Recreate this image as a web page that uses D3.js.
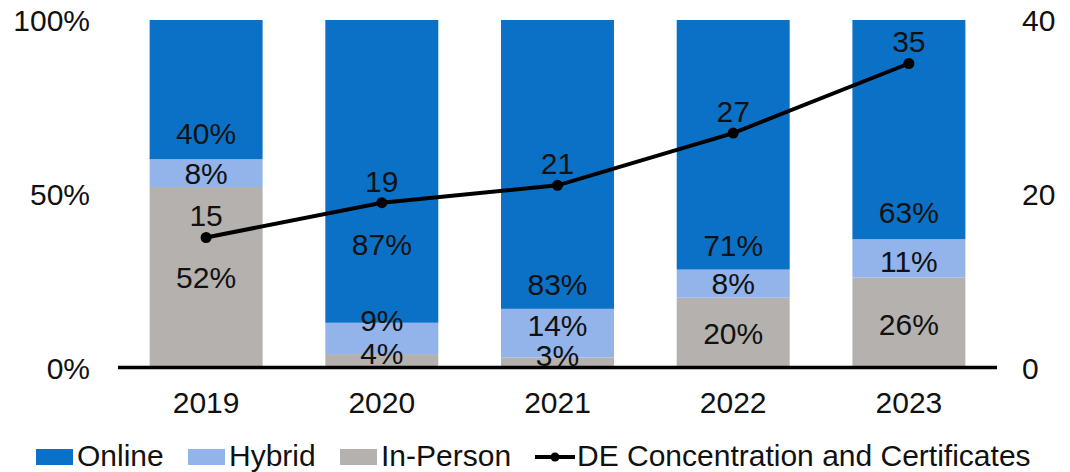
<!DOCTYPE html>
<html>
<head>
<meta charset="utf-8">
<script src="https://cdn.jsdelivr.net/npm/d3@7"></script>
<style>
  body { margin: 0; background: #fff; }
  text { font-family: "Liberation Sans", Arial, sans-serif; fill: #111; }
</style>
</head>
<body>
<svg id="chart" width="1070" height="472"></svg>
<script>
// data
const years = ['2019', '2020', '2021', '2022', '2023'];
const inPerson = [52, 4, 3, 20, 26];
const hybrid = [8, 9, 14, 8, 11];
const online = [40, 87, 83, 71, 63];
const deCount = [15, 19, 21, 27, 35];
const leftTicks = [0, 50, 100];
const rightTicks = [0, 20, 40];

const colors = { online: '#0a71c7', hybrid: '#92b4ea', inPerson: '#b4b1af' };

const svg = d3.select('#chart');
const fs = 30;

let x = d3.scaleBand().domain(years).range([118, 997]).paddingInner(0.357).paddingOuter(0.18);
let y = d3.scaleLinear().domain([0, 1]).range([368, 20]);
let y2 = d3.scaleLinear().domain([0, 40]).range([368, 20]);

// stack: in-person at bottom, then hybrid, then online (bars fill to 100%)
let rows = years.map((yr, i) => ({ year: yr, inPerson: inPerson[i], hybrid: hybrid[i], online: online[i] }));
let stack = d3.stack().keys(['inPerson', 'hybrid', 'online']).offset(d3.stackOffsetExpand)(rows);

// manual label nudges (px, relative to segment centre), like the hand-moved labels in the original
const nudge = {
  online: [44, 73, 120, 100, 83],
  hybrid: [0, -18, -8, 0, 3],
  inPerson: [0, -8, -8, 0, 1]
};

let barG = svg.append('g');
let labelG = svg.append('g');
stack.forEach(layer => {
  barG.append('g').selectAll('rect').data(layer).join('rect')
    .attr('x', d => x(d.data.year))
    .attr('y', d => y(d[1]))
    .attr('width', x.bandwidth())
    .attr('height', d => y(d[0]) - y(d[1]))
    .attr('fill', colors[layer.key]);
});

// axes
let leftAxis = svg.append('g').attr('transform', 'translate(90,0)')
  .call(d3.axisLeft(y2.copy().domain([0, 100])).tickValues(leftTicks).tickSize(0).tickPadding(0).tickFormat(d => d + '%'));
let rightAxis = svg.append('g').attr('transform', 'translate(1022,0)')
  .call(d3.axisRight(y2).tickValues(rightTicks).tickSize(0).tickPadding(0));
let bottomAxis = svg.append('g').attr('transform', 'translate(0,368)')
  .call(d3.axisBottom(x).tickSize(0).tickPadding(24));
[leftAxis, rightAxis, bottomAxis].forEach(a => {
  a.select('.domain').remove();
  a.selectAll('text').attr('font-size', fs).attr('font-family', '"Liberation Sans", Arial, sans-serif').attr('fill', '#111');
});
leftAxis.selectAll('text').attr('dy', '0.36em');
rightAxis.selectAll('text').attr('dy', '0.36em');
bottomAxis.selectAll('text').attr('dy', '0.7em');

svg.append('line')
  .attr('x1', 118).attr('x2', 997)
  .attr('y1', 367.5).attr('y2', 367.5)
  .attr('stroke', '#000').attr('stroke-width', 3.5);

// segment labels on top of all bars
stack.forEach(layer => {
  labelG.append('g').selectAll('text').data(layer).join('text')
    .attr('x', d => x(d.data.year) + x.bandwidth() / 2)
    .attr('y', (d, i) => (y(d[0]) + y(d[1])) / 2 + nudge[layer.key][i])
    .attr('dy', '0.36em')
    .attr('text-anchor', 'middle')
    .attr('font-size', fs)
    .text(d => d.data[layer.key] + '%');
});
labelG.raise();

// line series on secondary axis
let cx = yr => x(yr) + x.bandwidth() / 2;
let line = d3.line().x((d, i) => cx(years[i])).y(d => y2(d));
svg.append('path').datum(deCount)
  .attr('d', line)
  .attr('fill', 'none').attr('stroke', '#000').attr('stroke-width', 4);
svg.selectAll('circle.pt').data(deCount).join('circle')
  .attr('class', 'pt')
  .attr('cx', (d, i) => cx(years[i])).attr('cy', d => y2(d)).attr('r', 5.5).attr('fill', '#000');
svg.selectAll('text.pt').data(deCount).join('text')
  .attr('class', 'pt')
  .attr('x', (d, i) => cx(years[i]))
  .attr('y', d => y2(d) - 22)
  .attr('dy', '0.36em')
  .attr('text-anchor', 'middle')
  .attr('font-size', fs)
  .text(d => d);

// legend
const legend = [
  { name: 'Online', type: 'rect', color: colors.online, x: 36 },
  { name: 'Hybrid', type: 'rect', color: colors.hybrid, x: 188 },
  { name: 'In-Person', type: 'rect', color: colors.inPerson, x: 340 },
  { name: 'DE Concentration and Certificates', type: 'line', color: '#000', x: 535 }
];
let lg = svg.append('g');
legend.forEach(item => {
  if (item.type === 'rect') {
    lg.append('rect').attr('x', item.x).attr('y', 449).attr('width', 37).attr('height', 16).attr('fill', item.color);
    lg.append('text').attr('x', item.x + 41).attr('y', 455).attr('dy', '0.36em').attr('font-size', fs).text(item.name);
  } else {
    lg.append('line').attr('x1', item.x).attr('x2', item.x + 40).attr('y1', 457).attr('y2', 457)
      .attr('stroke', item.color).attr('stroke-width', 4);
    lg.append('circle').attr('cx', item.x + 20).attr('cy', 457).attr('r', 4.5).attr('fill', item.color);
    lg.append('text').attr('x', item.x + 42).attr('y', 455).attr('dy', '0.36em').attr('font-size', fs).text(item.name);
  }
});
</script>
</body>
</html>
